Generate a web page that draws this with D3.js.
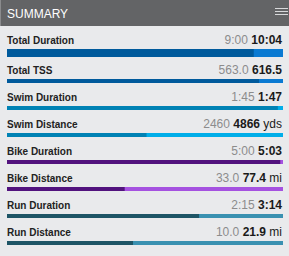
<!DOCTYPE html>
<html><head><meta charset="utf-8">
<script src="https://cdn.jsdelivr.net/npm/d3@7"></script>
<style>
html,body{margin:0;padding:0;background:#e9eaec;}
svg{display:block;font-family:"Liberation Sans",Arial,sans-serif;}
</style></head>
<body>
<script>
const labels = ["Total Duration","Total TSS","Swim Duration","Swim Distance","Bike Duration","Bike Distance","Run Duration","Run Distance"];
const planned = [540, 563.0, 105, 2460, 300, 33.0, 135, 10.0];
const actual = [604, 616.5, 107, 4866, 303, 77.4, 194, 21.9];
const plannedText = ["9:00","563.0","1:45","2460","5:00","33.0","2:15","10.0"];
const actualText = ["10:04","616.5","1:47","4866","5:03","77.4","3:14","21.9"];
const units = ["","","","yds","","mi","","mi"];
const sport = ["total","total","swim","swim","bike","bike","run","run"];
const darkColors = {total:"#005a9c", swim:"#0082b4", bike:"#52137e", run:"#1e5566"};
const lightColors = {total:"#0a7ad2", swim:"#00aee9", bike:"#a552e0", run:"#3a91b1"};

const W = 289, H = 256;
const svg = d3.select("body").append("svg").attr("width", W).attr("height", H);
svg.append("rect").attr("width", W).attr("height", H).attr("fill", "#e9eaec");
// header
svg.append("rect").attr("x",0).attr("y",0).attr("width",W).attr("height",26).attr("fill","#636466");
svg.append("rect").attr("x",0).attr("y",0).attr("width",1).attr("height",26).attr("fill","#8a8b8d");
svg.append("text").attr("x",7).attr("y",17.5).attr("fill","#ffffff").attr("font-size","12px").text("SUMMARY");
[8,11,14].forEach(y=>svg.append("rect").attr("x",275).attr("y",y).attr("width",13).attr("height",1).attr("fill","#d8d9db"));

const x0 = 7, x1 = 283;
const barTop = i => i === 0 ? 49 : 79 + (i-1)*27;
const barH = i => i === 0 ? 8 : 4;

labels.forEach((lab,i)=>{
  const g = svg.append("g");
  const base = barTop(i) - 5;
  const x = d3.scaleLinear().domain([0, Math.max(planned[i], actual[i])]).range([x0, x1]);
  g.append("text").attr("x",7).attr("y",base).attr("font-size","10px").attr("font-weight","bold").attr("fill","#222").text(lab);
  const t = g.append("text").attr("x",282).attr("y",base).attr("text-anchor","end").attr("font-size","12px");
  t.append("tspan").attr("fill","#8c8c8c").text(plannedText[i] + " ");
  t.append("tspan").attr("fill","#1a1a1a").attr("font-weight","bold").text(actualText[i]);
  if (units[i]) t.append("tspan").attr("fill","#1a1a1a").text(" " + units[i]);
  const lo = Math.min(planned[i], actual[i]);
  const hi = Math.max(planned[i], actual[i]);
  g.append("rect").attr("x",x(0)).attr("y",barTop(i)).attr("width",x(hi)-x(0)).attr("height",barH(i)).attr("fill",lightColors[sport[i]]);
  g.append("rect").attr("x",x(0)).attr("y",barTop(i)).attr("width",x(lo)-x(0)).attr("height",barH(i)).attr("fill",darkColors[sport[i]]);
});
</script>
</body></html>
